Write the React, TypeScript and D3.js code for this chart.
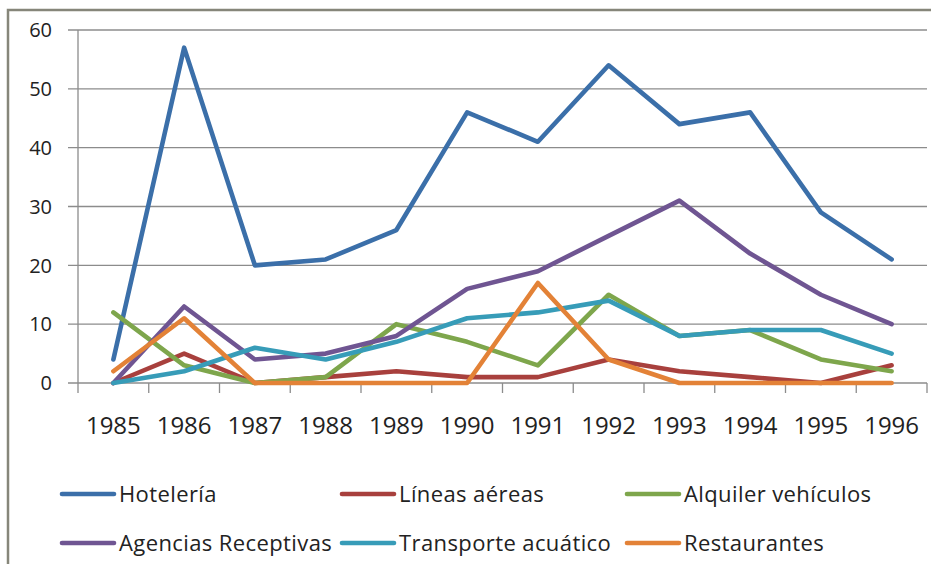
import { useEffect, useRef } from "react";
import * as d3 from "d3";

const years = ["1985", "1986", "1987", "1988", "1989", "1990", "1991", "1992", "1993", "1994", "1995", "1996"];
const hoteleria = [4, 57, 20, 21, 26, 46, 41, 54, 44, 46, 29, 21];
const lineasAereas = [0, 5, 0, 1, 2, 1, 1, 4, 2, 1, 0, 3];
const alquilerVehiculos = [12, 3, 0, 1, 10, 7, 3, 15, 8, 9, 4, 2];
const agenciasReceptivas = [0, 13, 4, 5, 8, 16, 19, 25, 31, 22, 15, 10];
const transporteAcuatico = [0, 2, 6, 4, 7, 11, 12, 14, 8, 9, 9, 5];
const restaurantes = [2, 11, 0, 0, 0, 0, 17, 4, 0, 0, 0, 0];
const yTicks = [0, 10, 20, 30, 40, 50, 60];

interface Series {
  name: string;
  values: number[];
  color: string;
}

const series: Series[] = [
  { name: "Hotelería", values: hoteleria, color: "#3B6FA9" },
  { name: "Líneas aéreas", values: lineasAereas, color: "#A8403D" },
  { name: "Alquiler vehículos", values: alquilerVehiculos, color: "#7EA64C" },
  { name: "Agencias Receptivas", values: agenciasReceptivas, color: "#6F5592" },
  { name: "Transporte acuático", values: transporteAcuatico, color: "#379CB8" },
  { name: "Restaurantes", values: restaurantes, color: "#E38237" },
];

export default function App() {
  const svgRef = useRef<SVGSVGElement>(null);

  useEffect(() => {
    if (!svgRef.current) return;
    const svg = d3.select(svgRef.current);
    svg.selectAll("*").remove();

    const width = 931;
    const height = 564;
    const left = 78;
    const right = 927;
    const top = 30;
    const bottom = 383;
    const font = "'Open Sans', 'Noto Sans', sans-serif";
    const gridColor = "#8c8c8c";

    // outer chart frame (runs off the right and bottom edges)
    svg
      .append("rect")
      .attr("x", 8)
      .attr("y", 10)
      .attr("width", width + 20)
      .attr("height", height + 20)
      .attr("fill", "white")
      .attr("stroke", "#86867a")
      .attr("stroke-width", 2.5);

    const x = d3.scaleBand<string>().domain(years).range([left, right]).padding(0);
    const y = d3.scaleLinear().domain([0, 60]).range([bottom, top]);

    // gridlines
    svg
      .append("g")
      .selectAll("line")
      .data(yTicks)
      .enter()
      .append("line")
      .attr("x1", left - 10)
      .attr("x2", right)
      .attr("y1", (d) => y(d))
      .attr("y2", (d) => y(d))
      .attr("stroke", gridColor)
      .attr("stroke-width", 1.3);

    // y axis line
    svg
      .append("line")
      .attr("x1", left)
      .attr("x2", left)
      .attr("y1", top)
      .attr("y2", bottom)
      .attr("stroke", gridColor)
      .attr("stroke-width", 1.3);

    // x tick marks at category boundaries
    const boundaries = years.map((yr) => x(yr) as number).concat([right]);
    svg
      .append("g")
      .selectAll("line")
      .data(boundaries)
      .enter()
      .append("line")
      .attr("x1", (d) => d)
      .attr("x2", (d) => d)
      .attr("y1", bottom)
      .attr("y2", bottom + 10)
      .attr("stroke", gridColor)
      .attr("stroke-width", 1.3);

    // y tick labels
    svg
      .append("g")
      .selectAll("text")
      .data(yTicks)
      .enter()
      .append("text")
      .attr("x", 52)
      .attr("y", (d) => y(d))
      .attr("dy", "0.36em")
      .attr("text-anchor", "end")
      .attr("font-family", font)
      .attr("font-size", 20)
      .attr("fill", "#222")
      .text((d) => d);

    // x tick labels
    svg
      .append("g")
      .selectAll("text")
      .data(years)
      .enter()
      .append("text")
      .attr("x", (d) => (x(d) as number) + x.bandwidth() / 2)
      .attr("y", 434)
      .attr("text-anchor", "middle")
      .attr("font-family", font)
      .attr("font-size", 24)
      .attr("fill", "#222")
      .text((d) => d);

    // lines, first series at the bottom
    const line = d3
      .line<number>()
      .x((_, i) => (x(years[i]) as number) + x.bandwidth() / 2)
      .y((d) => y(d));

    svg
      .append("g")
      .selectAll("path")
      .data(series)
      .enter()
      .append("path")
      .attr("d", (d) => line(d.values))
      .attr("fill", "none")
      .attr("stroke", (d) => d.color)
      .attr("stroke-width", 4.6)
      .attr("stroke-linejoin", "round")
      .attr("stroke-linecap", "round");

    // legend
    const colX = [62, 342, 627];
    const rowY = [494, 543];
    const legendItems = svg
      .append("g")
      .selectAll("g")
      .data(series)
      .enter()
      .append("g")
      .attr("transform", (_, i) => `translate(${colX[i % 3]},${rowY[Math.floor(i / 3)]})`);

    legendItems
      .append("line")
      .attr("x1", 0)
      .attr("x2", 52)
      .attr("y1", 0)
      .attr("y2", 0)
      .attr("stroke", (d) => d.color)
      .attr("stroke-width", 4.6)
      .attr("stroke-linecap", "round");

    legendItems
      .append("text")
      .attr("x", 57)
      .attr("y", 0)
      .attr("dy", "0.36em")
      .attr("font-family", font)
      .attr("font-size", 22)
      .attr("letter-spacing", 0.4)
      .attr("fill", "#222")
      .text((d) => d.name);
  }, []);

  return (
    <svg
      ref={svgRef}
      width={931}
      height={564}
      style={{ position: "absolute", left: 0, top: 0, background: "white" }}
    ></svg>
  );
}
